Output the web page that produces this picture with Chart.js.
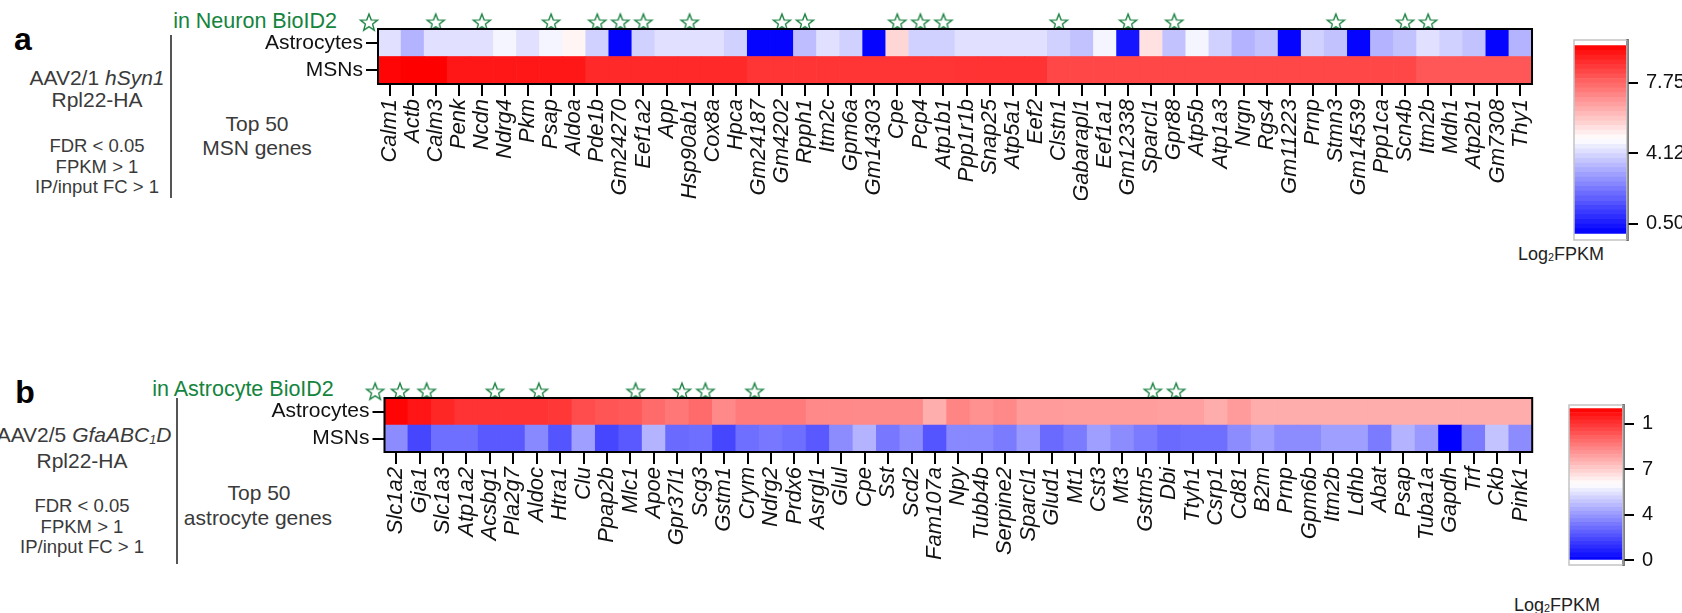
<!DOCTYPE html>
<html>
<head>
<meta charset="utf-8">
<script src="https://cdn.jsdelivr.net/npm/chart.js@4.4.1/dist/chart.umd.min.js"></script>
<style>
  body { margin: 0; background: #fff; width: 1682px; height: 613px; overflow: hidden; position: relative;
         font-family: "Liberation Sans", Arial, sans-serif; }
  canvas { position: absolute; }
  .t { position: absolute; transform: translate(-50%, -50%); white-space: nowrap; color: #3a3a3a; line-height: 1; font-size: 21px; }
  .s { font-size: 18.5px; }
  .lab { color: #000; font-weight: bold; font-size: 32px; }
  .grn { color: #14843e; font-size: 21.5px; }
  .cb { color: #222; font-size: 18px; }
  .vl { position: absolute; width: 1.5px; background: #555; }
  sub { font-size: 60%; vertical-align: -0.15em; }
</style>
</head>
<body>

<div class="t lab" style="left:23px;top:39px">a</div>
<div class="t grn" style="left:255px;top:22px">in Neuron BioID2</div>
<div class="t" style="left:97px;top:77px">AAV2/1 <i>hSyn1</i></div>
<div class="t" style="left:97px;top:99px">Rpl22-HA</div>
<div class="t s" style="left:97px;top:146px">FDR &lt; 0.05</div>
<div class="t s" style="left:97px;top:167px">FPKM &gt; 1</div>
<div class="t s" style="left:97px;top:187px">IP/input FC &gt; 1</div>
<div class="vl" style="left:170px;top:35px;height:163px"></div>
<div class="t" style="left:257px;top:123px">Top 50</div>
<div class="t" style="left:257px;top:147px">MSN genes</div>
<div class="t cb" style="left:1561px;top:254px">Log<sub>2</sub>FPKM</div>

<div class="t lab" style="left:25px;top:392px">b</div>
<div class="t grn" style="left:243px;top:390px">in Astrocyte BioID2</div>
<div class="t" style="left:84px;top:435px">AAV2/5 <i>GfaABC<sub>1</sub>D</i></div>
<div class="t" style="left:82px;top:460px">Rpl22-HA</div>
<div class="t s" style="left:82px;top:506px">FDR &lt; 0.05</div>
<div class="t s" style="left:82px;top:527px">FPKM &gt; 1</div>
<div class="t s" style="left:82px;top:547px">IP/input FC &gt; 1</div>
<div class="vl" style="left:176px;top:398px;height:166px"></div>
<div class="t" style="left:259px;top:492px">Top 50</div>
<div class="t" style="left:258px;top:517px">astrocyte genes</div>
<div class="t cb" style="left:1557px;top:605px">Log<sub>2</sub>FPKM</div>

<canvas id="heatA" width="1300" height="200" style="left:250px;top:0px"></canvas>
<canvas id="cbA" width="142" height="240" style="left:1540px;top:20px"></canvas>
<canvas id="heatB" width="1300" height="200" style="left:250px;top:370px"></canvas>
<canvas id="cbB" width="152" height="200" style="left:1530px;top:385px"></canvas>

<script>
// ---- data: panel a (top 50 MSN genes) ----
const rowLabels = ['Astrocytes', 'MSNs'];

const genesA = ['Calm1', 'Actb', 'Calm3', 'Penk', 'Ncdn', 'Ndrg4', 'Pkm', 'Psap', 'Aldoa', 'Pde1b',
    'Gm24270', 'Eef1a2', 'App', 'Hsp90ab1', 'Cox8a', 'Hpca', 'Gm24187', 'Gm4202', 'Rpph1', 'Itm2c',
    'Gpm6a', 'Gm14303', 'Cpe', 'Pcp4', 'Atp1b1', 'Ppp1r1b', 'Snap25', 'Atp5a1', 'Eef2', 'Clstn1',
    'Gabarapl1', 'Eef1a1', 'Gm12338', 'Sparcl1', 'Gpr88', 'Atp5b', 'Atp1a3', 'Nrgn', 'Rgs4', 'Gm11223',
    'Prnp', 'Stmn3', 'Gm14539', 'Ppp1ca', 'Scn4b', 'Itm2b', 'Mdh1', 'Atp2b1', 'Gm7308', 'Thy1'];
const astroA = [4.25, 3.38, 4.25, 4.25, 4.25, 4.63, 4.25, 4.63, 5.02, 3.96,
    0.1, 3.96, 4.25, 4.25, 4.25, 3.96, 0.1, 0.1, 3.57, 4.25,
    3.96, 0.1, 5.6, 3.96, 3.96, 4.25, 4.25, 4.25, 4.25, 3.96,
    3.67, 4.63, 0.39, 5.4, 3.67, 4.63, 3.96, 3.38, 3.67, 0.1,
    3.96, 3.67, 0.1, 3.38, 3.67, 4.25, 3.96, 3.67, 0.1, 3.38];
const msnA = [9.55, 9.65, 9.65, 9.22, 9.22, 9.22, 9.22, 9.22, 9.22, 8.88,
    8.88, 8.88, 8.88, 8.88, 8.88, 8.88, 8.64, 8.64, 8.64, 8.64,
    8.64, 8.64, 8.64, 8.64, 8.64, 8.69, 8.69, 8.69, 8.69, 8.3,
    8.3, 8.3, 8.3, 8.3, 8.3, 8.3, 8.3, 8.3, 8.3, 8.3,
    8.3, 8.3, 8.3, 8.3, 8.3, 8.01, 8.01, 8.01, 8.01, 8.01];
// column positions of the "in Neuron BioID2" stars (legend star first)
const legendStarsA = [-0.89];
const starsA = [2, 4, 7, 9, 10, 11, 13, 17, 18, 22, 23, 24, 29, 32, 34, 41, 44, 45];
const domainA = [0, 9.65];
const cbTicksA = [0.5, 4.12, 7.75];
const cbLabelsA = ['0.50', '4.12', '7.75'];

// ---- data: panel b (top astrocyte genes) ----
const genesB = ['Slc1a2', 'Gja1', 'Slc1a3', 'Atp1a2', 'Acsbg1', 'Pla2g7', 'Aldoc', 'Htra1', 'Clu', 'Ppap2b',
    'Mlc1', 'Apoe', 'Gpr37l1', 'Scg3', 'Gstm1', 'Crym', 'Ndrg2', 'Prdx6', 'Asrgl1', 'Glul',
    'Cpe', 'Sst', 'Scd2', 'Fam107a', 'Npy', 'Tubb4b', 'Serpine2', 'Sparcl1', 'Glud1', 'Mt1',
    'Cst3', 'Mt3', 'Gstm5', 'Dbi', 'Ttyh1', 'Csrp1', 'Cd81', 'B2m', 'Prnp', 'Gpm6b',
    'Itm2b', 'Ldhb', 'Abat', 'Psap', 'Tuba1a', 'Gapdh', 'Trf', 'Ckb', 'Pink1'];
const astroB = [11.9, 11.5, 11.1, 10.8, 10.8, 10.8, 10.8, 10.7, 10.2, 10.0,
    9.9, 9.5, 9.2, 9.5, 8.8, 9.1, 9.1, 9.1, 8.8, 8.8,
    8.75, 8.75, 8.75, 7.9, 8.9, 8.6, 8.8, 8.35, 8.35, 8.3,
    8.3, 8.3, 8.3, 8.25, 8.25, 7.95, 8.35, 7.95, 7.95, 7.95,
    7.95, 7.95, 7.95, 7.95, 7.95, 7.95, 7.95, 7.95, 7.95];
const msnB = [3.3, 1.65, 2.6, 2.6, 2.1, 2.1, 3.2, 2.0, 3.75, 1.65,
    2.1, 4.2, 2.5, 2.6, 1.65, 2.6, 2.8, 2.6, 2.1, 3.3,
    4.2, 2.8, 3.3, 2.0, 3.2, 3.2, 2.9, 3.6, 2.5, 2.9,
    3.75, 3.3, 2.9, 2.5, 2.6, 2.6, 3.3, 3.75, 3.3, 3.3,
    3.75, 3.75, 2.9, 4.2, 3.6, 0.0, 2.9, 4.6, 3.3];
const legendStarsB = [-1.87, -0.9];
const starsB = [0.16, 1.3, 4.22, 6.09, 10.22, 12.2, 13.2, 15.3, 32.3, 33.3];
const domainB = [0, 12];
const cbTicksB = [0, 3.6, 7.2, 10.8];
const cbLabelsB = ['0', '4', '7', '1'];

const FONT = '"Liberation Sans", Arial, sans-serif';
const STAR_Y = 2.25;

// blue - white - red
function heat(v, domain) {
    const lo = domain[0], hi = domain[1], mid = (lo + hi) / 2;
    let t;
    if (v < mid) {
        t = Math.max(0, Math.min(1, (v - lo) / (mid - lo)));
        const c = Math.round(255 * t);
        return `rgb(${c},${c},255)`;
    }
    t = Math.max(0, Math.min(1, (v - mid) / (hi - mid)));
    const c = Math.round(255 * (1 - t));
    return `rgb(255,${c},${c})`;
}

// hollow green star used as point style
function starImage(r) {
    const s = Math.ceil(r * 2 + 4);
    const c = document.createElement('canvas');
    c.width = s; c.height = s;
    const g = c.getContext('2d');
    g.translate(s / 2, s / 2 + r * 0.1);
    g.beginPath();
    for (let k = 0; k < 10; k++) {
        const a = -Math.PI / 2 + k * Math.PI / 5;
        const rad = k % 2 ? r * 0.42 : r;
        g.lineTo(Math.cos(a) * rad, Math.sin(a) * rad);
    }
    g.closePath();
    g.strokeStyle = '#1b8242';
    g.lineWidth = 1.4;
    g.stroke();
    return c;
}
const star = starImage(9);

const frame = {
    id: 'frame',
    afterDatasetsDraw(chart, args, opts) {
        const a = chart.chartArea, ctx = chart.ctx;
        ctx.save();
        ctx.strokeStyle = opts.color || '#000';
        ctx.lineWidth = opts.width || 2;
        ctx.strokeRect(a.left, a.top, a.right - a.left, a.bottom - a.top);
        ctx.restore();
    }
};

function makeHeatmap(id, genes, astro, msn, stars, domain, g) {
    const ctx = document.getElementById(id).getContext('2d');
    const cell = { barPercentage: 1, categoryPercentage: 1, borderWidth: 0, grouped: false, stack: 'heat' };
    return new Chart(ctx, {
        type: 'bar',
        data: {
            labels: genes,
            datasets: [
                Object.assign({
                    label: rowLabels[1],
                    data: genes.map(() => 1),
                    backgroundColor: msn.map(v => heat(v, domain))
                }, cell),
                Object.assign({
                    label: rowLabels[0],
                    data: genes.map(() => 1),
                    backgroundColor: astro.map(v => heat(v, domain))
                }, cell),
                {
                    type: 'scatter',
                    label: 'BioID2',
                    data: stars.map(x => ({ x: x, y: STAR_Y })),
                    xAxisID: 'xs',
                    stack: 'stars',
                    pointStyle: star,
                    pointRadius: 9,
                    clip: false
                }
            ]
        },
        options: {
            responsive: false,
            animation: false,
            devicePixelRatio: 1,
            layout: { padding: { left: 0, right: g.right, top: g.top, bottom: 0 } },
            plugins: { legend: { display: false }, tooltip: { enabled: false }, frame: { color: '#000', width: 2 } },
            scales: {
                x: {
                    stacked: true,
                    grid: { offset: false, drawOnChartArea: false, drawTicks: true, tickLength: 12, color: '#000', lineWidth: 2 },
                    border: { display: true, color: '#000', width: 2 },
                    ticks: {
                        autoSkip: false, maxRotation: 90, minRotation: 90, padding: 3, color: '#111',
                        font: { family: FONT, size: 22, style: 'italic' }
                    },
                    afterFit: s => { s.height = g.xh; }
                },
                xs: {
                    type: 'linear', display: false, offset: false, bounds: 'ticks',
                    min: -0.5, max: genes.length - 0.5
                },
                y: {
                    stacked: true,
                    min: 0,
                    max: 2,
                    afterBuildTicks: s => { s.ticks = [{ value: 0.5 }, { value: 1.5 }]; },
                    grid: { drawOnChartArea: false, drawTicks: true, tickLength: 12, color: '#000', lineWidth: 2 },
                    border: { display: true, color: '#000', width: 2 },
                    ticks: {
                        padding: 3, color: '#111',
                        font: { family: FONT, size: 21 },
                        callback: v => (v > 1 ? rowLabels[0] : rowLabels[1])
                    },
                    afterFit: s => { s.width = g.yw; }
                }
            }
        },
        plugins: [frame]
    });
}

function makeColorbar(id, domain, ticks, labels, g) {
    const nBands = 40;
    const step = (domain[1] - domain[0]) / nBands;
    const bands = [];
    for (let i = 0; i < nBands; i++) bands.push(domain[0] + (i + 0.5) * step);
    const ctx = document.getElementById(id).getContext('2d');
    return new Chart(ctx, {
        type: 'bar',
        data: {
            labels: [''],
            datasets: bands.map(b => ({
                data: [step], backgroundColor: heat(b, domain), stack: 'cb',
                barPercentage: 1, categoryPercentage: 1, borderWidth: 0
            }))
        },
        options: {
            responsive: false,
            animation: false,
            devicePixelRatio: 1,
            layout: { padding: { left: g.left, right: 0, top: g.top, bottom: g.bottom } },
            plugins: { legend: { display: false }, tooltip: { enabled: false }, frame: { color: '#c4c4c4', width: 1.5 } },
            scales: {
                x: { display: false, stacked: true },
                y: {
                    position: 'right',
                    stacked: true,
                    min: g.min,
                    max: g.max,
                    afterBuildTicks: s => { s.ticks = ticks.map(v => ({ value: v })); },
                    grid: { drawOnChartArea: false, drawTicks: true, tickLength: 11, color: '#000', lineWidth: 2 },
                    border: { display: true, color: '#000', width: 2.5 },
                    ticks: {
                        padding: 8, color: '#111',
                        font: { family: FONT, size: 20 },
                        callback: (v, i) => labels[i]
                    },
                    afterFit: s => { s.width = g.yw; }
                }
            }
        },
        plugins: [frame]
    });
}

makeHeatmap('heatA', genesA, astroA, msnA, legendStarsA.concat(starsA), domainA,
    { top: 29, right: 12, xh: 116, yw: 128 });
makeHeatmap('heatB', genesB, astroB, msnB, legendStarsB.concat(starsB), domainB,
    { top: 28, right: 7, xh: 118, yw: 134.5 });

makeColorbar('cbA', domainA, cbTicksA, cbLabelsA,
    { left: 34, top: 13, bottom: 15, yw: 55, min: -0.34, max: 9.94 });
makeColorbar('cbB', domainB, cbTicksB, cbLabelsB,
    { left: 39, top: 15, bottom: 13, yw: 59, min: -0.37, max: 12.29 });
</script>
</body>
</html>
